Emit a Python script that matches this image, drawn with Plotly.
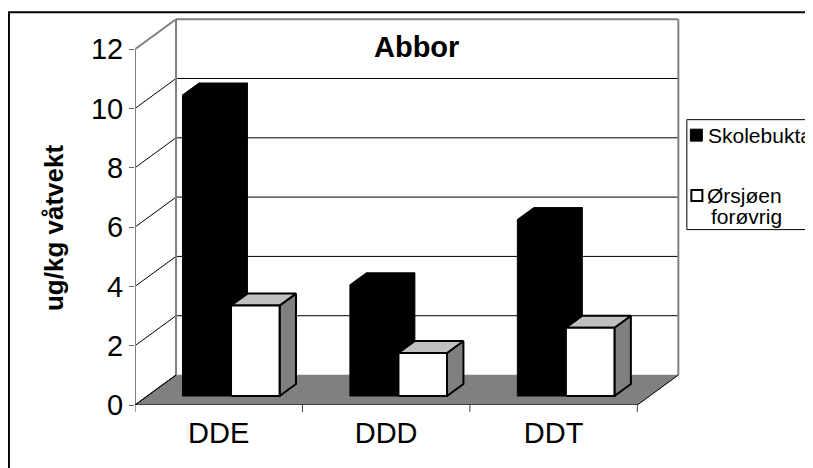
import plotly.graph_objects as go

# ---- data ----
categories = ["DDE", "DDD", "DDT"]
series_names = ["Skolebukta", "Ørsjøen", "forøvrig"]  # second series name spans two lines
skolebukta = [10.15, 3.75, 5.95]
orsjoen = [3.05, 1.45, 2.3]
y_ticks = [0, 2, 4, 6, 8, 10, 12]
title_text = "Abbor"
y_title = "ug/kg våtvekt"

# ---- geometry / styles ----
OFF = 8                # page body margin in the browser
W, H = 813 - OFF, 468 - OFF
PX_X = 167.33          # px per category unit
PX_Y = 29.67           # px per value unit
X0_PX, Y0_PX = 135, 405  # pixel position (screen) of front origin
DX, DY = 0.245, 1.011  # full-depth offset in data units
F0, F1 = 0.30, 0.70    # bar depth (front, back)
BW = 0.29              # bar width in category units
YMAX = max(y_ticks)
XR = len(categories) + DX + 0.01
YR = YMAX + DY + 0.04

ml = X0_PX - OFF
mb = H - (Y0_PX - OFF)
mt = (Y0_PX - OFF) - YR * PX_Y
mr = W - (X0_PX - OFF + XR * PX_X)

FONT = "Arial, Liberation Sans, sans-serif"


def P(x, y, f):
    return x + f * DX, y + f * DY


def poly(points):
    xs, ys = [], []
    for (x, y, f) in points:
        px, py = P(x, y, f)
        xs.append(px)
        ys.append(py)
    xs.append(xs[0])
    ys.append(ys[0])
    return xs, ys


def add_polys(fig, polys, fill, line_color, line_width):
    xs, ys = [], []
    for p in polys:
        a, b = poly(p)
        xs += a + [None]
        ys += b + [None]
    fig.add_trace(go.Scatter(x=xs, y=ys, mode="lines", fill="toself",
                             fillcolor=fill,
                             line=dict(color=line_color, width=line_width),
                             hoverinfo="skip", showlegend=False))


def add_segments(fig, segs, color, width):
    xs, ys = [], []
    for (a, b) in segs:
        pa, pb = P(*a), P(*b)
        xs += [pa[0], pb[0], None]
        ys += [pa[1], pb[1], None]
    fig.add_trace(go.Scatter(x=xs, y=ys, mode="lines",
                             line=dict(color=color, width=width),
                             hoverinfo="skip", showlegend=False))


def faces(x0, x1, v):
    front = [(x0, 0, F0), (x1, 0, F0), (x1, v, F0), (x0, v, F0)]
    top = [(x0, v, F0), (x1, v, F0), (x1, v, F1), (x0, v, F1)]
    side = [(x1, 0, F0), (x1, 0, F1), (x1, v, F1), (x1, v, F0)]
    return front, top, side


fig = go.Figure()
n = len(categories)

# floor
add_polys(fig, [[(0, 0, 0), (n, 0, 0), (n, 0, 1), (0, 0, 1)]], "#808080", "#808080", 0.5)

# back wall gridlines
add_segments(fig, [((0, v, 1), (n, v, 1)) for v in y_ticks[1:-1]], "#000000", 1)
# side wall diagonals
add_segments(fig, [((0, v, 0), (0, v, 1)) for v in y_ticks[:-1]], "#000000", 1)
# wall borders (gray)
add_segments(fig, [((0, 0, 1), (0, YMAX, 1)),
                   ((0, YMAX, 1), (n, YMAX, 1)),
                   ((n, 0, 1), (n, YMAX, 1)),
                   ((0, 0, 0), (0, YMAX, 0)),
                   ((0, YMAX, 0), (0, YMAX, 1))], "#808080", 2)
# floor edges
add_segments(fig, [((0, 0, 0), (n, 0, 0)),
                   ((n, 0, 0), (n, 0, 1)),
                   ((0, 0, 0), (0, 0, 1))], "#000000", 1)

# bars
black_polys, white_front, white_top, white_side = [], [], [], []
for i in range(n):
    c = i + 0.5
    fr, tp, sd = faces(c - BW, c, skolebukta[i])
    black_polys += [sd, tp, fr]
    fr, tp, sd = faces(c, c + BW, orsjoen[i])
    white_front.append(fr)
    white_top.append(tp)
    white_side.append(sd)

add_polys(fig, black_polys, "#000000", "#000000", 1)
add_polys(fig, white_side, "#808080", "#000000", 2)
add_polys(fig, white_top, "#c0c0c0", "#000000", 2)
add_polys(fig, white_front, "#ffffff", "#000000", 2)


def paper_x(px):
    return (px - X0_PX) / (XR * PX_X)


def paper_y(py):
    return (Y0_PX - py) / (YR * PX_Y)


shapes = []
# x tick marks at category boundaries
for k in range(n + 1):
    shapes.append(dict(type="line", xref="x", yref="paper", x0=k, x1=k,
                       y0=0, y1=paper_y(412), line=dict(color="#404040", width=1)))
# outer chart border
shapes.append(dict(type="rect", xref="paper", yref="paper",
                   x0=paper_x(9), x1=paper_x(830), y0=paper_y(480), y1=paper_y(12),
                   line=dict(color="#000000", width=2), fillcolor="rgba(0,0,0,0)", layer="above"))
# legend box
shapes.append(dict(type="rect", xref="paper", yref="paper",
                   x0=paper_x(686.5), x1=paper_x(830), y0=paper_y(229.5), y1=paper_y(119.5),
                   line=dict(color="#000000", width=1), fillcolor="white", layer="above"))
# legend swatches
shapes.append(dict(type="rect", xref="paper", yref="paper",
                   x0=paper_x(690), x1=paper_x(702), y0=paper_y(141), y1=paper_y(129),
                   line=dict(color="#000000", width=1), fillcolor="#000000", layer="above"))
shapes.append(dict(type="rect", xref="paper", yref="paper",
                   x0=paper_x(691), x1=paper_x(702), y0=paper_y(201), y1=paper_y(190),
                   line=dict(color="#000000", width=2), fillcolor="#ffffff", layer="above"))

annotations = [
    dict(text="<b>%s</b>" % title_text, xref="paper", yref="paper",
         x=paper_x(416), y=paper_y(47), xanchor="center", yanchor="middle",
         showarrow=False, font=dict(family=FONT, size=29, color="black")),
    dict(text="<b>%s</b>" % y_title, xref="paper", yref="paper",
         x=paper_x(54), y=paper_y(227), xanchor="center", yanchor="middle",
         textangle=-90, showarrow=False, font=dict(family=FONT, size=26, color="black")),
    dict(text=series_names[0], xref="paper", yref="paper",
         x=paper_x(706), y=paper_y(135), xanchor="left", yanchor="middle",
         showarrow=False, font=dict(family=FONT, size=21, color="black")),
    dict(text=series_names[1], xref="paper", yref="paper",
         x=paper_x(705), y=paper_y(195), xanchor="left", yanchor="middle",
         showarrow=False, font=dict(family=FONT, size=21, color="black")),
    dict(text=series_names[2], xref="paper", yref="paper",
         x=paper_x(709), y=paper_y(216), xanchor="left", yanchor="middle",
         showarrow=False, font=dict(family=FONT, size=21, color="black")),
]

fig.update_layout(
    width=W, height=H,
    margin=dict(l=ml, r=mr, t=mt, b=mb, pad=0),
    paper_bgcolor="white", plot_bgcolor="white",
    showlegend=False,
    shapes=shapes, annotations=annotations,
    xaxis=dict(range=[0, XR], showgrid=False, zeroline=False, showline=False,
               tickvals=[i + 0.5 for i in range(n)], ticktext=categories,
               ticks="", ticklabelstandoff=8,
               tickfont=dict(family=FONT, size=29, color="black"),
               fixedrange=True),
    yaxis=dict(range=[0, YR], showgrid=False, zeroline=False, showline=False,
               tickvals=y_ticks, ticks="outside", ticklen=5, tickcolor="#606060",
               tickwidth=1, tickfont=dict(family=FONT, size=29, color="black"),
               fixedrange=True),
)

fig.write_html("out.html")
